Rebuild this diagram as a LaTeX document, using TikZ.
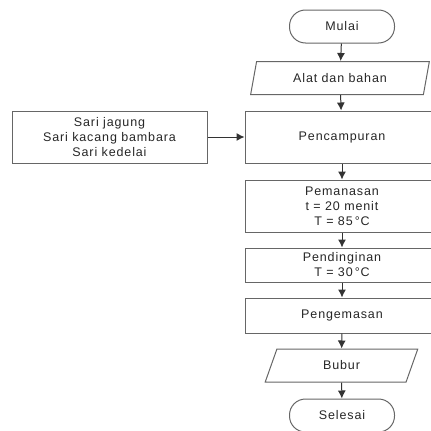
\documentclass[tikz,border=0pt]{standalone}
\usepackage{fontspec}
\setmainfont[LetterSpace=7]{Liberation Sans}
\usetikzlibrary{arrows.meta,shapes.geometric}

\begin{document}
\begin{tikzpicture}[>={Latex[length=8pt,width=8pt]},x=1pt,y=1pt,line width=1pt,
  every node/.style={font=\fontsize{12.5}{15}\selectfont,text=black!85,align=center,draw=black!60,inner sep=0pt},
  proses/.style={rectangle,minimum width=194pt},
  terminal/.style={rectangle,rounded corners=16pt,minimum width=105pt,minimum height=33pt},
  data/.style={trapezium,trapezium left angle=70,trapezium right angle=110,trapezium stretches=true,minimum height=33pt}]
\path[use as bounding box] (0,0) rectangle (431,-431);
\clip (0,0) rectangle (431,-431);
\node[terminal] (mulai) at (342,-26.5) {Mulai};
\node[data,minimum width=180pt] (alat) at (340,-78) {Alat dan bahan};
\node[proses,minimum height=52pt] (campur) at (342,-137) {Pencampuran};
\node[proses,minimum width=195pt,minimum height=52pt] (sari) at (109.5,-137) {Sari jagung\\Sari kacang bambara\\Sari kedelai};
\node[proses,minimum height=52pt] (panas) at (342,-206) {Pemanasan\\t = 20 menit\\T = 85\,°C};
\node[proses,minimum height=34pt] (dingin) at (342,-265) {Pendinginan\\T = 30\,°C};
\node[proses,minimum height=35pt] (kemas) at (342,-315.5) {Pengemasan};
\node[data,minimum width=153pt] (bubur) at (341.5,-365.5) {Bubur};
\node[terminal] (selesai) at (342,-415.5) {Selesai};
\draw[->,black!80] (mulai) -- (alat);
\draw[->,black!80] (alat) -- (campur);
\draw[->,black!80] (sari) -- (campur);
\draw[->,black!80] (campur) -- (panas);
\draw[->,black!80] (panas) -- (dingin);
\draw[->,black!80] (dingin) -- (kemas);
\draw[->,black!80] (kemas) -- (bubur);
\draw[->,black!80] (bubur) -- (selesai);
\end{tikzpicture}
\end{document}
